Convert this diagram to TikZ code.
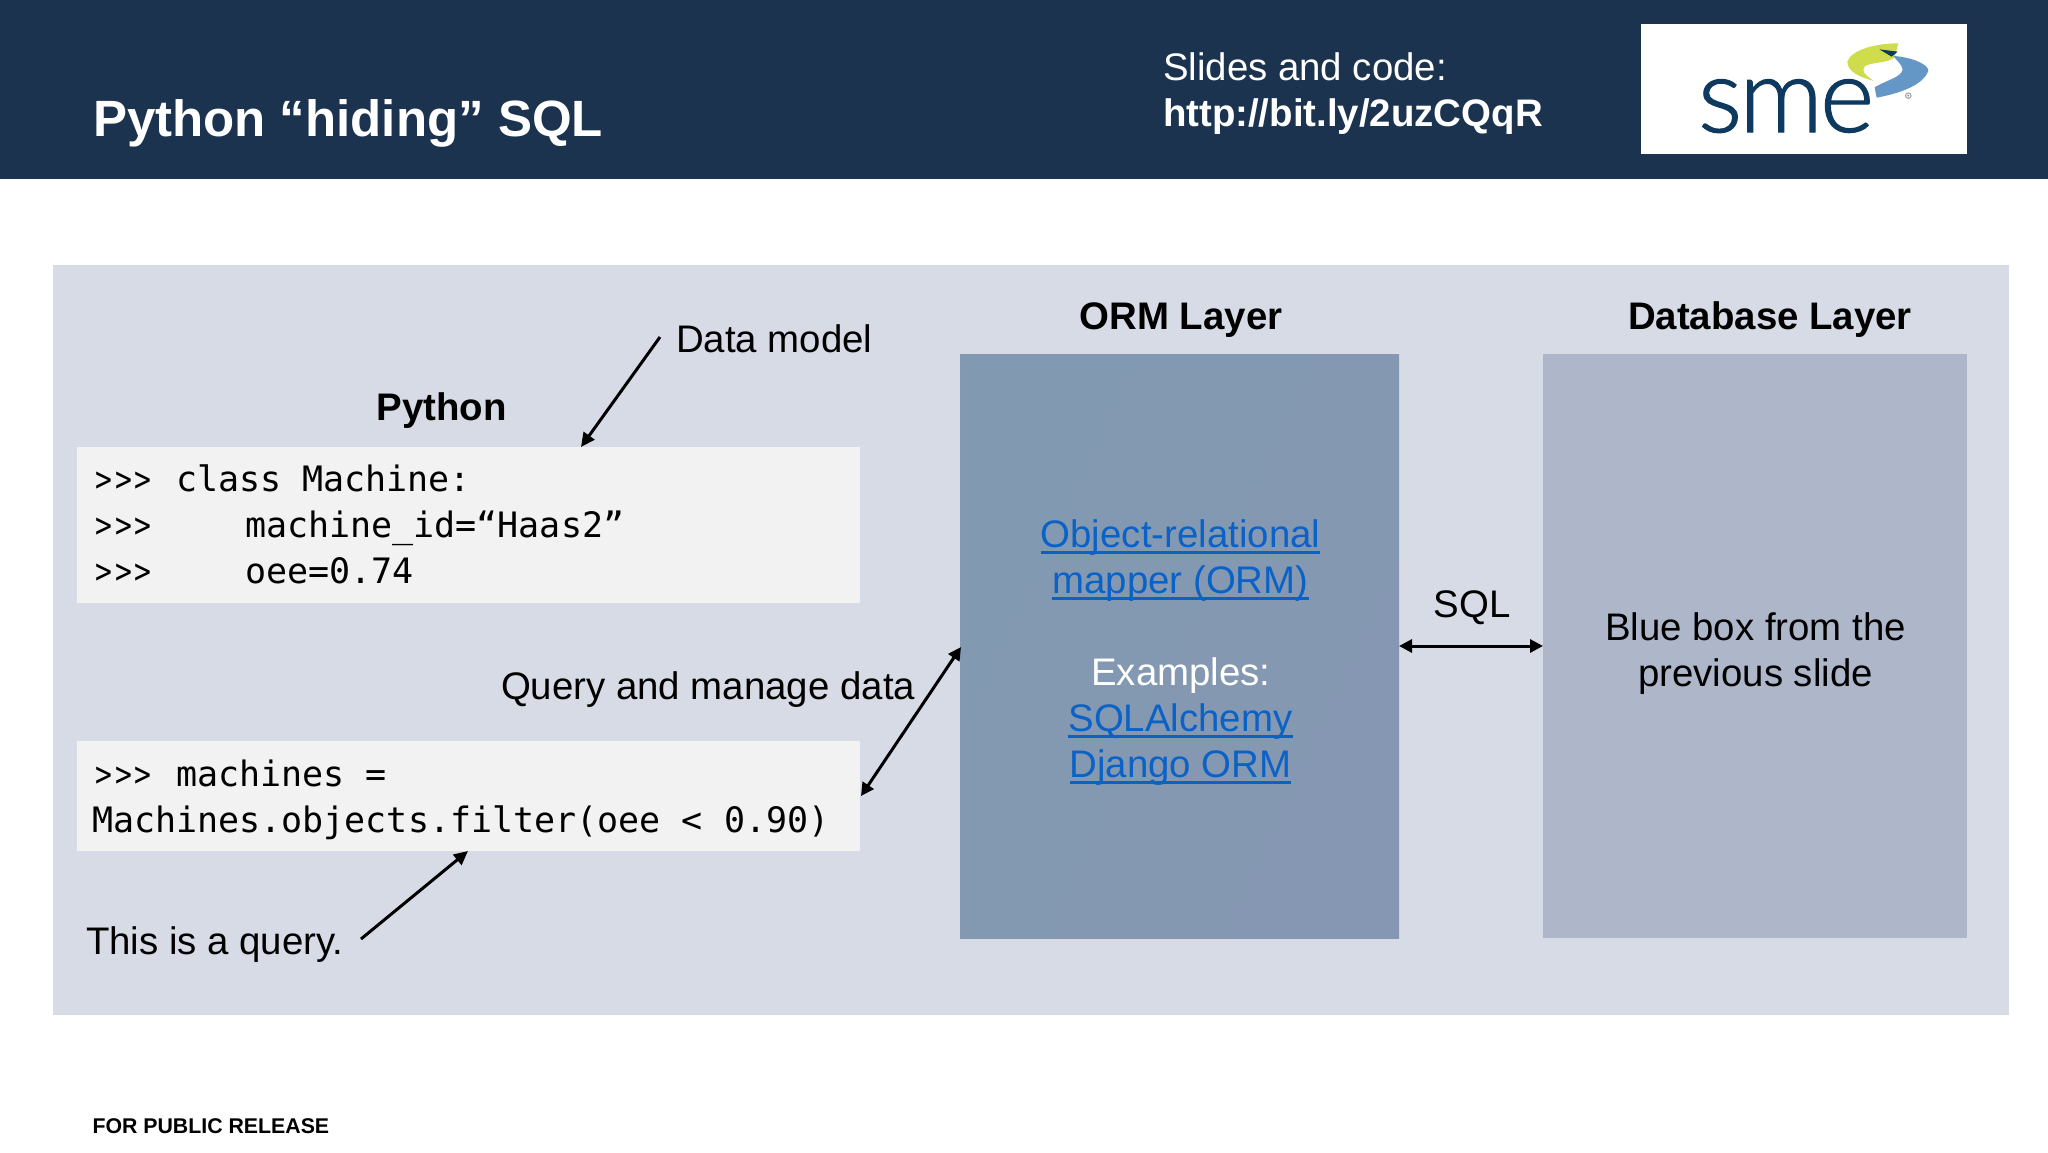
\documentclass[tikz,border=0pt]{standalone}
\usepackage{fontspec}
\setmainfont{Liberation Sans}
\setmonofont{DejaVu Sans Mono}
\newfontfamily\logofont{Lato Light}[FakeBold=1.2]
\usetikzlibrary{arrows.meta}
\definecolor{banner}{HTML}{1B334F}
\definecolor{panel}{HTML}{D7DBE5}
\definecolor{codebg}{HTML}{F2F2F3}
\definecolor{ormL}{HTML}{829AB1}
\definecolor{ormR}{HTML}{8597B2}
\definecolor{dbbox}{HTML}{AEB6C9}
\definecolor{linkblue}{HTML}{0B62C6}
\definecolor{logoink}{HTML}{0F3A5F}
\definecolor{logoyel}{HTML}{CFDD4C}
\definecolor{logoblue}{HTML}{6497C6}
\newcommand{\fs}[1]{\fontsize{#1pt}{#1pt}\selectfont}
\tikzset{
  x=1pt,y=-1pt,
  rectbox/.style={draw=none,inner sep=0pt,outer sep=0pt},
  txt/.style={inner sep=0pt,outer sep=0pt,anchor=base,text=black,font=\fs{38.4}},
  txtl/.style={txt,anchor=base west},
  bold/.style={txt,font=\fs{38.4}\bfseries},
  code/.style={inner sep=0pt,outer sep=0pt,anchor=base west,text=black,font=\fs{35}\ttfamily},
  link/.style={txt,text=linkblue},
  wtxt/.style={txt,text=white},
  arrow/.style={line width=3pt,black,-{Triangle[length=14pt,width=13pt]}},
  darrow/.style={line width=3pt,black,{Triangle[length=13pt,width=13pt]}-{Triangle[length=13pt,width=13pt]}},
}
\newcommand{\ulk}[1]{\setbox0\hbox{#1}\rlap{\rule[-6.6pt]{\wd0}{2.7pt}}\box0}
\newcommand{\prm}{\makebox[63pt][c]{\scalebox{0.8}[1]{>}\kern3pt\scalebox{0.8}[1]{>}\kern3pt\scalebox{0.8}[1]{>}}}
\begin{document}
\begin{tikzpicture}
\useasboundingbox (0,0) rectangle (2048,1152);
\fill[white] (0,0) rectangle (2048,1152);
\node[rectbox,fill=banner,minimum width=2048pt,minimum height=178.5pt] (bannerbar) at (1024,89.25) {};
\node[rectbox,fill=panel,minimum width=1956pt,minimum height=750pt] (panelbg) at (1031,640) {};
\node[rectbox,fill=white,minimum width=326pt,minimum height=130pt] (logobox) at (1804,89) {};
\node[txtl,text=white,font=\fs{51}\bfseries] (title) at (93,136) {Python “hiding” SQL};
\node[txtl,text=white,font=\fs{38.4}] (slides) at (1163,80) {Slides and code:};
\node[txtl,text=white,font=\fs{38.4}\bfseries] (url) at (1163,126) {http://bit.ly/2uzCQqR};
% logo
\node[inner sep=0pt,outer sep=0pt,anchor=base west,text=logoink,font=\fs{104}\logofont] (smetext) at (1698,132) {s\kern-3pt m\kern-3pt e};
\begin{scope}[shift={(1600,0)},x=0.3333pt,y=-0.3333pt]
\fill[logoyel] (895,130) .. controls (830,130) and (755,148) .. (742,185)
  .. controls (742,215) and (780,232) .. (822,243)
  .. controls (795,225) and (782,212) .. (795,198)
  .. controls (820,185) and (870,190) .. (885,170) -- cycle;
\fill[logoblue] (880,168) .. controls (925,170) and (985,190) .. (985,212)
  .. controls (970,258) and (890,282) .. (830,293)
  -- (824,262) .. controls (860,240) and (905,232) .. (908,208)
  .. controls (905,192) and (890,182) .. (880,168) -- cycle;
\fill[logoink] (838,148) -- (893,155) -- (875,170) -- cycle;
\fill[gray!70] (925,287) circle (10);
\fill[white] (925,287) circle (6);
\fill[gray] (925,287) circle (3);
\end{scope}
% panel headings
\node[bold] (pyhead) at (441.5,420) {Python};
\node[bold] (ormhead) at (1181,329.5) {ORM Layer};
\node[bold] (dbhead) at (1770,329.5) {Database Layer};
\node[txtl] (dmlabel) at (676,352) {Data model};
% boxes
\node[rectbox,fill=codebg,minimum width=783pt,minimum height=156pt] (codeA) at (468.5,525) {};
\node[rectbox,fill=codebg,minimum width=783pt,minimum height=110pt] (codeB) at (468.5,796) {};
\node[rectbox,minimum width=439pt,minimum height=584pt,top color=ormL,bottom color=ormR,shading angle=65] (orm) at (1179.5,646) {};
\node[rectbox,fill=dbbox,minimum width=424pt,minimum height=584pt] (db) at (1755,646) {};
% code
\node[code] (l1) at (92,491.5) {\prm\hspace{21pt}class Machine:};
\node[code] (l2) at (92,537.5) {\prm\hspace{90pt}machine\_id=“Haas2”};
\node[code] (l3) at (92,583.5) {\prm\hspace{90pt}oee=0.74};
\node[code] (l4) at (92,786.5) {\prm\hspace{21pt}machines =};
\node[code] (l5) at (92,832.5) {Machines.objects.filter(oee < 0.90)};
% ORM text
\node[link] (t1) at (1180.5,547) {\ulk{Object-relational}};
\node[link] (t2) at (1180.5,593) {\ulk{mapper (ORM)}};
\node[wtxt] (t3) at (1181,685.5) {Examples:};
\node[link] (t4) at (1180.5,731) {\ulk{SQLAlchemy}};
\node[link] (t5) at (1180.5,777) {\ulk{Django ORM}};
% DB text
\node[txt] (d1) at (1755.5,640) {Blue box from the};
\node[txt] (d2) at (1755.5,686) {previous slide};
\node[txt] (sql) at (1472,617) {SQL};
\node[txtl] (qlabel) at (501,699.5) {Query and manage data};
\node[txtl] (islabel) at (86,954) {This is a query.};
\node[txtl,text=black,font=\fs{21.3}\bfseries] (release) at (92.5,1133) {FOR PUBLIC RELEASE};
% connectors
\coordinate (dmTail) at (660,337);
\coordinate (dmHead) at (581,447);
\coordinate (qA) at (961,647);
\coordinate (qB) at (861,796);
\coordinate (isTail) at (361,939);
\coordinate (isHead) at (468,851);
\draw[arrow] (dmTail) -- (dmHead);
\draw[darrow] (qA) -- (qB);
\draw[arrow] (isTail) -- (isHead);
\draw[darrow] (orm.east) -- (db.west);
\end{tikzpicture}
\end{document}
